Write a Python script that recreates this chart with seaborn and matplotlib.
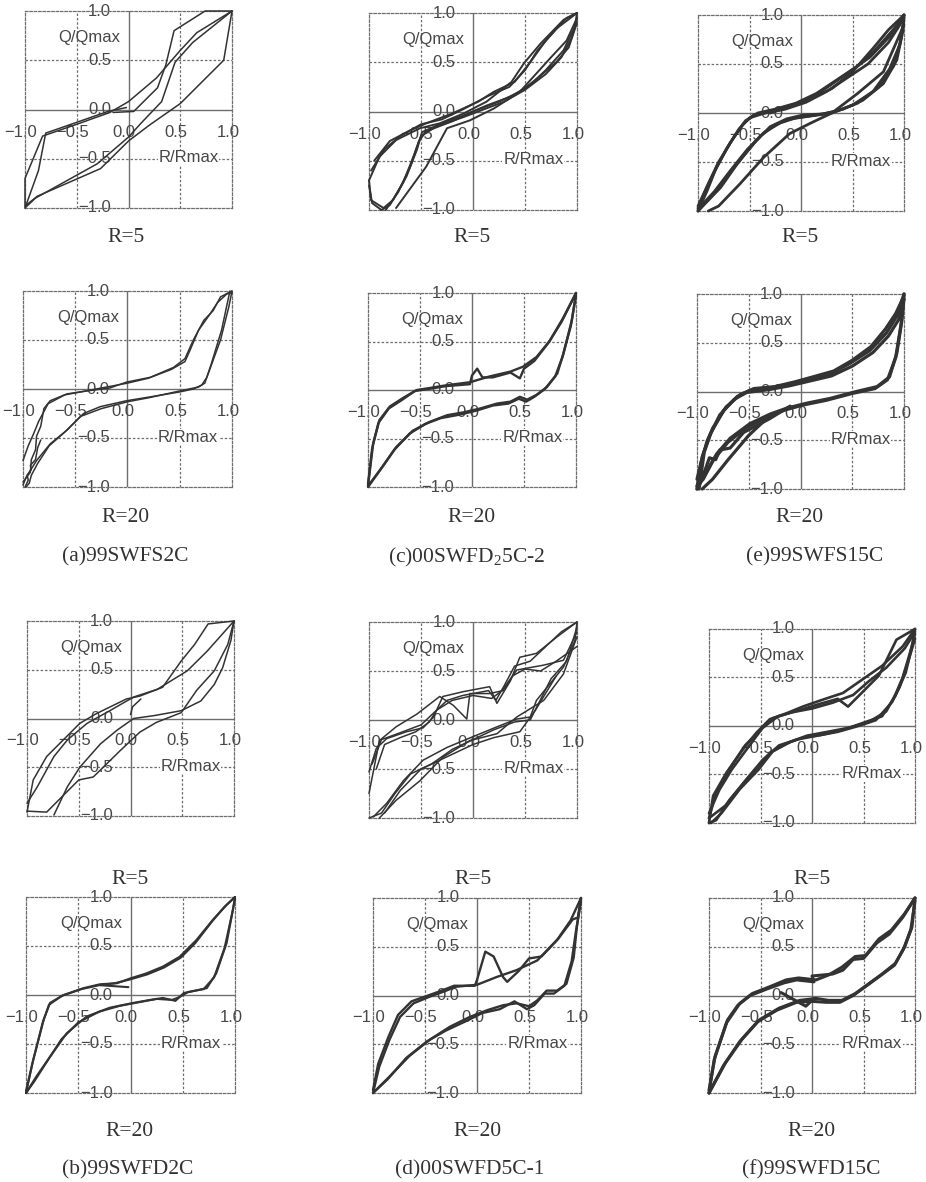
import matplotlib
matplotlib.use("Agg")
import matplotlib.pyplot as plt
import seaborn as sns
import pandas as pd

# ---------------- data ----------------
TICKS = [-1.0, -0.5, 0.0, 0.5, 1.0]
TICK_TEXT = ["−1.0", "−0.5", "0.0", "0.5", "1.0"]
Y_NAME = "Q/Qmax"
X_NAME = "R/Rmax"

# (a) 99SWFS2C, R=5
A5_C1 = [(-0.15,-0.03),(0.05,-0.02),(0.28,0.22),(0.36,0.45),(0.44,0.80),(0.74,1.0),(1.0,1.0)]
A5_C2 = [(1.0,1.0),(0.92,0.5),(0.5,0.06),(0.2,-0.16),(0.0,-0.32),(-0.27,-0.60),(-0.88,-0.88),(-1.0,-0.98)]
A5_C3 = [(-1.0,-0.98),(-1.0,-0.70),(-0.83,-0.27),(-0.5,-0.15),(-0.18,-0.03),(0.0,0.08),(0.27,0.32),(0.5,0.6),(0.66,0.78),(1.0,1.0)]
A5_C4 = [(1.0,1.0),(0.62,0.68),(0.45,0.48),(0.32,0.08),(0.12,-0.14),(0.0,-0.28),(-0.3,-0.55),(-0.9,-0.9),(-1.0,-1.0)]
A5_C5 = [(-1.0,-1.0),(-0.87,-0.62),(-0.8,-0.24),(-0.5,-0.13),(-0.2,-0.02),(-0.02,0.02)]

# (a) 99SWFS2C, R=20
A20_U1 = [(-1.0,-0.95),(-0.93,-0.85),(-0.92,-0.72),(-0.88,-0.62),(-0.87,-0.48),(-0.83,-0.38),(-0.8,-0.2),(-0.74,-0.12),(-0.58,-0.05),(-0.39,-0.02),(-0.17,0.01),(-0.01,0.07),(0.22,0.12),(0.44,0.22),(0.55,0.31),(0.63,0.50),(0.73,0.70),(0.82,0.80),(0.89,0.94),(0.98,0.99),(1.0,1.0)]
A20_U2 = [(-1.0,-0.73),(-0.95,-0.58),(-0.9,-0.46),(-0.85,-0.33),(-0.81,-0.25),(-0.76,-0.15),(-0.6,-0.06),(-0.4,-0.02),(-0.2,0.02),(0.0,0.06),(0.2,0.11),(0.42,0.2),(0.55,0.28),(0.6,0.4),(0.68,0.6),(0.78,0.75),(0.86,0.88),(0.95,0.97),(1.0,0.98)]
A20_L1 = [(1.0,1.0),(0.97,0.84),(0.89,0.50),(0.76,0.12),(0.71,0.04),(0.63,0.0),(0.50,-0.03),(0.22,-0.08),(-0.01,-0.12),(-0.26,-0.18),(-0.42,-0.25),(-0.58,-0.42),(-0.74,-0.56),(-0.87,-0.73),(-0.97,-0.90),(-1.0,-0.98)]
A20_L2 = [(0.98,1.0),(0.96,0.9),(0.9,0.6),(0.8,0.25),(0.74,0.06),(0.68,0.02),(0.5,-0.02),(0.2,-0.09),(0.0,-0.13),(-0.25,-0.2),(-0.45,-0.28),(-0.6,-0.44),(-0.75,-0.58),(-0.86,-0.76),(-0.92,-0.88),(-0.94,-0.96),(-0.97,-1.0)]
A20_J = [(-0.98,-1.0),(-0.95,-0.93),(-0.96,-0.88),(-0.92,-0.82),(-0.93,-0.78),(-0.88,-0.72),(-0.86,-0.6),(-0.83,-0.52)]

# (c) 00SWFD25C-2, R=5
C5_U1 = [(-1.0,-0.70),(-0.9,-0.46),(-0.74,-0.29),(-0.51,-0.17),(-0.32,-0.12),(-0.09,-0.02),(0.13,0.10),(0.37,0.30),(0.49,0.49),(0.65,0.69),(0.87,0.93),(1.0,1.0)]
C5_U2 = [(-0.98,-0.6),(-0.85,-0.38),(-0.7,-0.25),(-0.5,-0.13),(-0.3,-0.08),(-0.1,0.02),(0.15,0.16),(0.35,0.25),(0.5,0.42),(0.62,0.62),(0.8,0.84),(1.0,1.0)]
C5_U3 = [(-0.95,-0.5),(-0.8,-0.3),(-0.62,-0.2),(-0.45,-0.12),(-0.2,-0.02),(0.05,0.1),(0.2,0.2),(0.4,0.3),(0.55,0.5),(0.7,0.72),(0.9,0.95),(1.0,1.0)]
C5_L1 = [(1.0,1.0),(0.98,0.86),(0.87,0.62),(0.70,0.42),(0.55,0.27),(0.36,0.15),(0.13,0.06),(-0.09,-0.04),(-0.3,-0.12),(-0.49,-0.21),(-0.54,-0.39),(-0.64,-0.66),(-0.77,-0.90),(-0.86,-0.98),(-0.98,-0.90),(-1.0,-0.70)]
C5_L2 = [(1.0,0.95),(0.95,0.75),(0.85,0.55),(0.7,0.38),(0.5,0.22),(0.3,0.1),(0.1,0.02),(-0.1,-0.06),(-0.35,-0.15),(-0.5,-0.25),(-0.57,-0.45),(-0.67,-0.72),(-0.8,-0.95),(-0.88,-1.0),(-0.97,-0.93),(-1.0,-0.75)]
C5_L3 = [(1.0,0.9),(0.92,0.65),(0.8,0.5),(0.6,0.32),(0.45,0.2),(0.25,0.1),(0.0,0.0),(-0.2,-0.1),(-0.45,-0.2),(-0.52,-0.3),(-0.6,-0.55),(-0.72,-0.82),(-0.84,-1.0)]
C5_X = [(-0.74,-0.98),(-0.45,-0.56),(-0.25,-0.17),(-0.03,-0.09),(0.2,0.03),(0.45,0.2),(0.75,0.55),(0.9,0.72),(1.0,0.95)]

# (c) 00SWFD25C-2, R=20
C20_U1 = [(-1.0,-0.99),(-0.95,-0.55),(-0.89,-0.31),(-0.79,-0.17),(-0.66,-0.08),(-0.53,0.0),(-0.41,0.02),(-0.24,0.05),(-0.02,0.08),(0.17,0.14),(0.37,0.19),(0.49,0.24),(0.62,0.34),(0.75,0.51),(0.88,0.75),(1.0,1.0)]
C20_U2 = [(-1.0,-0.97),(-0.96,-0.6),(-0.9,-0.34),(-0.8,-0.19),(-0.67,-0.1),(-0.55,-0.01),(-0.42,0.01),(-0.25,0.04),(-0.02,0.06),(0.0,0.15),(0.05,0.22),(0.1,0.13),(0.2,0.13),(0.37,0.18),(0.46,0.12),(0.5,0.22),(0.6,0.3),(0.73,0.48),(0.86,0.7),(1.0,1.0)]
C20_L1 = [(1.0,1.0),(0.96,0.72),(0.88,0.38),(0.82,0.17),(0.72,0.03),(0.62,-0.05),(0.53,-0.10),(0.46,-0.07),(0.37,-0.12),(0.24,-0.14),(0.08,-0.19),(-0.08,-0.23),(-0.24,-0.26),(-0.41,-0.33),(-0.57,-0.42),(-0.73,-0.59),(-0.86,-0.79),(-1.0,-0.99)]
C20_L2 = [(1.0,0.97),(0.95,0.66),(0.87,0.34),(0.8,0.14),(0.7,0.01),(0.6,-0.07),(0.52,-0.12),(0.45,-0.09),(0.35,-0.14),(0.2,-0.16),(0.05,-0.21),(-0.1,-0.25),(-0.3,-0.29),(-0.45,-0.35),(-0.6,-0.45),(-0.75,-0.62),(-0.88,-0.82),(-1.0,-1.0)]

# (e) 99SWFS15C, R=5
E5_U1 = [(-1.0,-1.0),(-0.91,-0.79),(-0.82,-0.55),(-0.69,-0.31),(-0.56,-0.11),(-0.46,-0.02),(-0.30,0.01),(-0.11,0.06),(0.09,0.15),(0.28,0.28),(0.47,0.42),(0.67,0.57),(0.86,0.78),(0.97,0.96),(1.0,1.0)]
E5_U2 = [(-1.0,-0.97),(-0.93,-0.8),(-0.84,-0.6),(-0.72,-0.36),(-0.6,-0.16),(-0.5,-0.05),(-0.35,0.0),(-0.15,0.04),(0.05,0.11),(0.25,0.22),(0.45,0.36),(0.65,0.5),(0.85,0.72),(0.96,0.9),(1.0,1.0)]
E5_U3 = [(-1.0,-0.95),(-0.9,-0.72),(-0.8,-0.5),(-0.66,-0.26),(-0.54,-0.08),(-0.42,0.0),(-0.25,0.04),(-0.05,0.1),(0.15,0.2),(0.35,0.34),(0.55,0.48),(0.7,0.62),(0.82,0.76),(0.92,0.88),(1.0,1.0)]
E5_L1 = [(1.0,1.0),(0.99,0.84),(0.93,0.54),(0.80,0.30),(0.60,0.13),(0.41,0.04),(0.22,-0.01),(0.02,-0.02),(-0.14,-0.06),(-0.30,-0.14),(-0.46,-0.31),(-0.62,-0.52),(-0.78,-0.76),(-1.0,-1.0)]
E5_L2 = [(1.0,0.95),(0.97,0.75),(0.9,0.48),(0.75,0.26),(0.55,0.1),(0.35,0.02),(0.15,-0.02),(-0.05,-0.05),(-0.2,-0.1),(-0.36,-0.2),(-0.52,-0.37),(-0.68,-0.58),(-0.84,-0.8),(-1.0,-0.98)]
E5_L3 = [(1.0,0.98),(0.96,0.7),(0.86,0.45),(0.7,0.22),(0.5,0.08),(0.3,0.0),(0.1,-0.03),(-0.1,-0.06),(-0.25,-0.12),(-0.4,-0.24),(-0.56,-0.44),(-0.72,-0.65),(-0.88,-0.86),(-1.0,-1.0)]
E5_X = [(1.0,0.9),(0.8,0.42),(0.55,0.2),(0.3,0.0),(0.1,-0.1),(-0.11,-0.21),(-0.36,-0.45),(-0.59,-0.72),(-0.8,-0.95),(-0.9,-1.0)]
E5_Y = [(-0.3,0.0),(0.0,0.1),(0.3,0.25),(0.5,0.42),(0.7,0.66),(0.85,0.85),(1.0,1.0)]

# (e) 99SWFS15C, R=20
E20_U1 = [(-1.0,-0.98),(-0.95,-0.67),(-0.87,-0.43),(-0.74,-0.19),(-0.61,-0.05),(-0.49,0.01),(-0.29,0.03),(-0.10,0.08),(0.09,0.13),(0.29,0.18),(0.48,0.29),(0.67,0.42),(0.83,0.60),(0.93,0.77),(1.0,1.0)]
E20_U2 = [(-1.0,-0.9),(-0.96,-0.72),(-0.9,-0.5),(-0.78,-0.24),(-0.64,-0.08),(-0.52,-0.01),(-0.3,0.02),(-0.1,0.06),(0.1,0.11),(0.3,0.16),(0.5,0.26),(0.7,0.4),(0.85,0.57),(0.95,0.74),(1.0,0.95)]
E20_U3 = [(-0.98,-1.0),(-0.93,-0.62),(-0.85,-0.38),(-0.72,-0.16),(-0.58,-0.03),(-0.45,0.03),(-0.25,0.05),(-0.05,0.1),(0.12,0.15),(0.32,0.21),(0.5,0.32),(0.68,0.46),(0.82,0.64),(0.92,0.8),(1.0,0.98)]
E20_L1 = [(1.0,1.0),(0.98,0.73),(0.93,0.39),(0.86,0.15),(0.74,0.05),(0.54,0.0),(0.29,-0.07),(0.06,-0.12),(-0.13,-0.17),(-0.29,-0.23),(-0.49,-0.33),(-0.68,-0.48),(-0.81,-0.64),(-0.92,-0.84),(-1.0,-1.0)]
E20_L2 = [(1.0,0.95),(0.97,0.68),(0.92,0.35),(0.84,0.12),(0.72,0.03),(0.5,-0.02),(0.25,-0.09),(0.02,-0.14),(-0.15,-0.19),(-0.32,-0.26),(-0.52,-0.37),(-0.7,-0.52),(-0.84,-0.7),(-0.94,-0.9),(-1.0,-0.97)]
E20_L3 = [(-0.1,-0.15),(-0.3,-0.28),(-0.55,-0.42),(-0.68,-0.58),(-0.78,-0.6),(-0.82,-0.7),(-0.88,-0.68),(-0.92,-0.8),(-0.96,-0.92),(-1.0,-1.0)]
E20_X = [(-0.3,-0.25),(-0.5,-0.45),(-0.7,-0.7),(-0.85,-0.9),(-0.95,-1.0)]

# (b) 99SWFD2C, R=5
B5_C1 = [(-1.0,-0.96),(-0.94,-0.63),(-0.81,-0.39),(-0.65,-0.22),(-0.49,-0.05),(-0.33,0.05),(-0.04,0.20),(0.09,0.23),(0.31,0.32),(0.49,0.59),(0.62,0.76),(0.75,0.97),(1.0,1.0)]
B5_C2 = [(-1.0,-0.87),(-0.9,-0.70),(-0.74,-0.39),(-0.61,-0.22),(-0.42,-0.05),(-0.2,0.08),(0.03,0.22),(0.26,0.30),(0.55,0.49),(0.74,0.69),(1.0,1.0)]
B5_C3 = [(1.0,1.0),(0.97,0.80),(0.89,0.52),(0.81,0.35),(0.68,0.18),(0.49,0.08),(0.23,0.03),(0.03,0.0),(-0.13,-0.12),(-0.29,-0.26),(-0.49,-0.50),(-0.61,-0.70),(-0.74,-0.99)]
B5_C4 = [(1.0,1.0),(0.94,0.76),(0.81,0.49),(0.64,0.29),(0.49,0.06),(0.25,-0.04),(0.09,-0.14),(-0.1,-0.33),(-0.36,-0.60),(-0.5,-0.63),(-0.81,-0.96),(-1.0,-0.95)]
B5_C0 = [(0.0,0.04),(0.02,0.12),(0.1,0.2)]

# (b) 99SWFD2C, R=20
B20_U1 = [(-1.0,-1.0),(-0.93,-0.66),(-0.83,-0.25),(-0.77,-0.08),(-0.64,0.0),(-0.45,0.07),(-0.29,0.11),(-0.13,0.12),(0.0,0.17),(0.15,0.22),(0.31,0.29),(0.47,0.39),(0.63,0.56),(0.79,0.77),(0.92,0.92),(1.0,1.0)]
B20_U2 = [(-1.0,-0.98),(-0.94,-0.7),(-0.84,-0.28),(-0.78,-0.1),(-0.66,-0.01),(-0.47,0.06),(-0.3,0.1),(-0.15,0.12),(0.0,0.16),(0.16,0.21),(0.32,0.28),(0.48,0.38),(0.62,0.53),(0.78,0.75),(0.9,0.9),(1.0,1.0)]
B20_S = [(-0.29,0.10),(-0.02,0.08)]
B20_L1 = [(1.0,1.0),(0.98,0.87),(0.92,0.53),(0.82,0.22),(0.73,0.07),(0.6,0.04),(0.51,0.02),(0.43,-0.06),(0.31,-0.03),(0.19,-0.05),(0.03,-0.08),(-0.2,-0.13),(-0.42,-0.22),(-0.61,-0.39),(-0.77,-0.63),(-0.9,-0.83),(-1.0,-1.0)]
B20_L2 = [(1.0,0.98),(0.97,0.82),(0.9,0.48),(0.8,0.18),(0.7,0.06),(0.55,0.03),(0.47,-0.02),(0.4,-0.05),(0.25,-0.04),(0.1,-0.07),(-0.1,-0.11),(-0.3,-0.17),(-0.5,-0.28),(-0.66,-0.45),(-0.8,-0.68),(-0.92,-0.88),(-1.0,-1.0)]

# (d) 00SWFD5C-1, R=5
D5_U1 = [(-1.0,-0.53),(-0.93,-0.29),(-0.83,-0.19),(-0.64,-0.12),(-0.48,-0.08),(-0.38,0.03),(-0.29,0.24),(-0.09,0.29),(0.16,0.34),(0.23,0.17),(0.36,0.40),(0.45,0.64),(0.61,0.68),(0.81,0.85),(1.0,1.0)]
D5_U2 = [(-1.0,-0.75),(-0.9,-0.21),(-0.74,-0.07),(-0.54,0.06),(-0.32,0.24),(-0.19,0.15),(-0.06,0.01),(-0.03,0.27),(0.16,0.27),(0.29,0.30),(0.42,0.51),(0.68,0.56),(0.87,0.61),(1.0,0.9)]
D5_U3 = [(-0.97,-0.45),(-0.88,-0.2),(-0.7,-0.13),(-0.5,-0.05),(-0.35,0.1),(-0.25,0.2),(-0.1,0.25),(0.15,0.3),(0.22,0.2),(0.3,0.35),(0.4,0.55),(0.55,0.6),(0.7,0.75),(0.85,0.9),(1.0,1.0)]
D5_U4 = [(-0.93,-0.5),(-0.85,-0.25),(-0.7,-0.18),(-0.55,-0.12),(-0.42,-0.02),(-0.35,0.1),(-0.2,0.2),(0.0,0.25),(0.18,0.22),(0.28,0.3),(0.38,0.45),(0.5,0.52),(0.65,0.5),(0.8,0.6),(1.0,0.75)]
D5_L1 = [(1.0,1.0),(0.98,0.81),(0.87,0.54),(0.74,0.37),(0.61,0.20),(0.55,0.03),(0.42,0.01),(0.23,-0.07),(0.0,-0.17),(-0.25,-0.28),(-0.48,-0.41),(-0.67,-0.62),(-0.83,-0.85),(-0.96,-0.99)]
D5_L2 = [(1.0,0.85),(0.87,0.47),(0.68,0.20),(0.42,0.03),(0.23,-0.14),(-0.03,-0.21),(-0.29,-0.38),(-0.51,-0.62),(-0.74,-0.82),(-0.9,-1.0)]
D5_L3 = [(1.0,0.95),(0.9,0.6),(0.75,0.42),(0.55,0.0),(0.4,-0.02),(0.2,-0.1),(0.0,-0.2),(-0.2,-0.3),(-0.4,-0.45),(-0.6,-0.55),(-0.75,-0.75),(-0.88,-0.95),(-1.0,-1.0)]
D5_L4 = [(0.8,0.45),(0.6,0.1),(0.45,-0.12),(0.2,-0.18),(0.0,-0.25),(-0.3,-0.4),(-0.5,-0.5),(-0.7,-0.72),(-0.85,-0.95)]

# (d) 00SWFD5C-1, R=20
D20_U1 = [(-1.0,-1.0),(-0.94,-0.73),(-0.84,-0.45),(-0.74,-0.22),(-0.61,-0.08),(-0.45,-0.01),(-0.32,0.04),(-0.2,0.09),(0.0,0.11),(0.19,0.19),(0.38,0.26),(0.58,0.36),(0.77,0.57),(0.9,0.77),(1.0,1.0)]
D20_U2 = [(-1.0,-0.97),(-0.95,-0.7),(-0.85,-0.42),(-0.76,-0.2),(-0.63,-0.06),(-0.47,0.0),(-0.34,0.05),(-0.22,0.1),(-0.02,0.1),(0.0,0.16),(0.08,0.45),(0.16,0.4),(0.25,0.19),(0.29,0.14),(0.4,0.25),(0.5,0.38),(0.62,0.4),(0.78,0.58),(0.92,0.78),(0.97,0.8),(1.0,1.0)]
D20_L1 = [(1.0,1.0),(0.96,0.70),(0.93,0.39),(0.86,0.12),(0.77,0.05),(0.67,0.05),(0.58,-0.05),(0.50,-0.11),(0.38,-0.08),(0.25,-0.10),(0.10,-0.15),(-0.07,-0.22),(-0.26,-0.32),(-0.45,-0.45),(-0.65,-0.62),(-0.84,-0.83),(-1.0,-1.0)]
D20_L2 = [(1.0,0.97),(0.95,0.65),(0.91,0.35),(0.84,0.1),(0.74,0.02),(0.65,0.02),(0.55,-0.1),(0.48,-0.14),(0.36,-0.06),(0.22,-0.14),(0.05,-0.18),(-0.1,-0.26),(-0.3,-0.36),(-0.48,-0.47),(-0.68,-0.64),(-0.86,-0.86),(-1.0,-1.0)]

# (f) 99SWFD15C, R=5
F5_U1 = [(-1.0,-1.0),(-0.96,-0.72),(-0.83,-0.48),(-0.67,-0.24),(-0.54,-0.07),(-0.41,0.07),(-0.25,0.13),(-0.09,0.20),(0.1,0.27),(0.30,0.34),(0.49,0.48),(0.68,0.62),(0.88,0.82),(1.0,1.0)]
F5_U2 = [(-1.0,-0.95),(-0.93,-0.68),(-0.8,-0.44),(-0.65,-0.2),(-0.5,-0.04),(-0.38,0.08),(-0.2,0.14),(0.0,0.18),(0.2,0.24),(0.4,0.32),(0.55,0.46),(0.72,0.6),(0.9,0.8),(1.0,0.97)]
F5_U3 = [(-1.0,-0.9),(-0.9,-0.66),(-0.78,-0.45),(-0.62,-0.22),(-0.48,-0.02),(-0.33,0.1),(-0.1,0.17),(0.05,0.22),(0.25,0.28),(0.35,0.2),(0.5,0.36),(0.65,0.52),(0.82,0.89),(1.0,1.0)]
F5_L1 = [(1.0,1.0),(0.97,0.82),(0.91,0.55),(0.81,0.31),(0.68,0.10),(0.49,0.03),(0.30,-0.04),(0.10,-0.09),(-0.09,-0.12),(-0.25,-0.18),(-0.41,-0.28),(-0.61,-0.52),(-0.80,-0.76),(-0.93,-0.97),(-1.0,-1.0)]
F5_L2 = [(1.0,0.95),(0.95,0.75),(0.88,0.5),(0.78,0.25),(0.62,0.06),(0.45,0.0),(0.25,-0.06),(0.05,-0.1),(-0.15,-0.14),(-0.32,-0.2),(-0.48,-0.35),(-0.66,-0.58),(-0.84,-0.82),(-1.0,-0.95)]
F5_L3 = [(1.0,0.9),(0.93,0.65),(0.85,0.4),(0.72,0.15),(0.55,0.04),(0.35,-0.02),(0.15,-0.06),(-0.05,-0.1),(-0.2,-0.16),(-0.38,-0.26),(-0.52,-0.45),(-0.7,-0.65),(-0.88,-0.9),(-0.98,-1.0)]

# (f) 99SWFD15C, R=20
F20_U1 = [(-1.0,-1.0),(-0.95,-0.66),(-0.83,-0.28),(-0.7,-0.08),(-0.58,0.02),(-0.41,0.09),(-0.25,0.16),(-0.13,0.18),(0.04,0.16),(0.16,0.21),(0.29,0.29),(0.42,0.40),(0.52,0.41),(0.65,0.58),(0.77,0.67),(0.9,0.84),(1.0,1.0)]
F20_U2 = [(-1.0,-0.97),(-0.94,-0.62),(-0.82,-0.25),(-0.72,-0.1),(-0.6,0.0),(-0.43,0.07),(-0.27,0.13),(-0.15,0.16),(0.02,0.14),(0.0,0.2),(0.2,0.22),(0.3,0.26),(0.4,0.37),(0.5,0.38),(0.63,0.54),(0.75,0.63),(0.88,0.8),(1.0,1.0)]
F20_L1 = [(1.0,1.0),(0.97,0.70),(0.9,0.5),(0.81,0.33),(0.68,0.22),(0.55,0.12),(0.42,0.02),(0.29,-0.05),(0.16,-0.05),(0.04,-0.03),(-0.12,-0.05),(-0.32,-0.13),(-0.51,-0.25),(-0.68,-0.45),(-0.84,-0.69),(-1.0,-1.0)]
F20_L2 = [(1.0,0.97),(0.96,0.68),(0.89,0.48),(0.8,0.31),(0.66,0.2),(0.53,0.1),(0.4,0.0),(0.27,-0.07),(0.14,-0.07),(0.0,-0.06),(-0.15,-0.07),(-0.34,-0.15),(-0.53,-0.27),(-0.7,-0.47),(-0.86,-0.72),(-1.0,-1.0)]
F20_X = [(-0.3,0.03),(-0.06,-0.11),(0.02,-0.03)]

R_LABELS = ["R=5", "R=20"]
CAPTIONS = ["(a)99SWFS2C", "(c)00SWFD$_{2}$5C-2", "(e)99SWFS15C",
            "(b)99SWFD2C", "(d)00SWFD5C-1", "(f)99SWFD15C"]

PANELS = {
    "A5": [A5_C1, A5_C2, A5_C3, A5_C4, A5_C5],
    "C5": [C5_U1, C5_U2, C5_U3, C5_L1, C5_L2, C5_L3, C5_X],
    "E5": [E5_U1, E5_U2, E5_U3, E5_L1, E5_L2, E5_L3, E5_X, E5_Y],
    "A20": [A20_U1, A20_U2, A20_L1, A20_L2, A20_J],
    "C20": [C20_U1, C20_U2, C20_L1, C20_L2],
    "E20": [E20_U1, E20_U2, E20_U3, E20_L1, E20_L2, E20_L3, E20_X],
    "B5": [B5_C1, B5_C2, B5_C3, B5_C4, B5_C0],
    "D5": [D5_U1, D5_U2, D5_U3, D5_U4, D5_L1, D5_L2, D5_L3, D5_L4],
    "F5": [F5_U1, F5_U2, F5_U3, F5_L1, F5_L2, F5_L3],
    "B20": [B20_U1, B20_U2, B20_S, B20_L1, B20_L2],
    "D20": [D20_U1, D20_U2, D20_L1, D20_L2],
    "F20": [F20_U1, F20_U2, F20_L1, F20_L2, F20_X],
}

# ---------------- layout / style ----------------
W, H = 926, 1182
# (key, left, top, right, bottom) in pixels, line width
LAYOUT = [
    ("A5", 25, 11, 232, 208, 1.1), ("C5", 369, 13, 577, 210, 1.4), ("E5", 698, 15, 904, 211, 2.0),
    ("A20", 23, 291, 232, 487, 1.1), ("C20", 368, 293, 576, 487, 1.7), ("E20", 697, 294, 904, 489, 2.3),
    ("B5", 27, 621, 234, 816, 1.1), ("D5", 369, 622, 577, 818, 1.1), ("F5", 709, 629, 915, 823, 1.9),
    ("B20", 26, 897, 235, 1093, 1.5), ("D20", 373, 898, 581, 1093, 1.7), ("F20", 709, 898, 915, 1093, 2.2),
]
R_TEXT_POS = [  # (x, y, label index)
    (126, 237, 0), (472, 237, 0), (800, 237, 0),
    (126, 517, 1), (472, 517, 1), (800, 517, 1),
    (130, 880, 0), (473, 880, 0), (812, 880, 0),
    (130, 1131, 1), (477, 1131, 1), (812, 1131, 1),
]
CAPTION_POS = [(125, 557), (467, 557), (815, 557), (128, 1170), (470, 1170), (811, 1170)]

LINE_COLOR = "#333333"
TEXT_COLOR = "#474747"
GRID_COLOR = "#6e6e6e"
DASH = (0, (2.0, 1.5))
XLABEL_SHIFT = -0.04

sns.set_theme(style="white")
plt.rcParams["font.family"] = ["Liberation Sans", "DejaVu Sans"]
plt.rcParams["mathtext.fontset"] = "custom"
plt.rcParams["mathtext.rm"] = "Liberation Serif"
plt.rcParams["mathtext.it"] = "Liberation Serif"

# long table
rows = []
for key, curves in PANELS.items():
    for ci, curve in enumerate(curves):
        for oi, (x, y) in enumerate(curve):
            rows.append({"panel": key, "curve": ci, "order": oi, "x": x, "y": y})
df = pd.DataFrame(rows)

fig = plt.figure(figsize=(W / 100, H / 100), dpi=100)
fig.patch.set_facecolor("white")

for key, l, t, r, b, lw in LAYOUT:
    ax = fig.add_axes([l / W, 1 - b / H, (r - l) / W, (b - t) / H])
    sub = df[df["panel"] == key]
    sns.lineplot(data=sub, x="x", y="y", units="curve", estimator=None, sort=False,
                 color=LINE_COLOR, linewidth=lw, ax=ax, legend=False)
    for ln in ax.lines:
        ln.set_clip_on(False)
        ln.set_zorder(3)
        ln.set_solid_joinstyle("round")
    ax.set_xlim(-1, 1)
    ax.set_ylim(-1, 1)
    ax.set_xlabel("")
    ax.set_ylabel("")
    ax.set_xticks([])
    ax.set_yticks([])
    for sp in ax.spines.values():
        sp.set_linestyle(DASH)
        sp.set_color(GRID_COLOR)
        sp.set_linewidth(0.9)
    for v in (-0.5, 0.5):
        ax.axhline(v, color=GRID_COLOR, lw=0.9, ls=DASH, zorder=1)
        ax.axvline(v, color=GRID_COLOR, lw=0.9, ls=DASH, zorder=1)
    ax.axhline(0, color=GRID_COLOR, lw=1.0, zorder=1)
    ax.axvline(0, color=GRID_COLOR, lw=1.0, zorder=1)
    for v, s in zip(TICKS, TICK_TEXT):
        ax.text(-0.17, v, s, ha="right", va="center", fontsize=12, color=TEXT_COLOR,
                clip_on=False, zorder=2)
        ax.text(v + XLABEL_SHIFT, -0.23, s, ha="center", va="center", fontsize=12,
                color=TEXT_COLOR, clip_on=False, zorder=2)
    ax.text(-0.08, 0.73, Y_NAME, ha="right", va="center", fontsize=12, color=TEXT_COLOR, zorder=2)
    ax.text(0.29, -0.49, X_NAME, ha="left", va="center", fontsize=12, color=TEXT_COLOR, zorder=2,
            bbox=dict(facecolor="white", edgecolor="none", pad=0.5))

for x, y, i in R_TEXT_POS:
    fig.text(x / W, 1 - y / H, R_LABELS[i], ha="center", va="center", fontsize=15.5,
             family="Liberation Serif", color="#333333")
for (x, y), cap in zip(CAPTION_POS, CAPTIONS):
    fig.text(x / W, 1 - y / H, cap, ha="center", va="center", fontsize=15.5,
             family="Liberation Serif", color="#333333")

fig.savefig("out.png", dpi=100, facecolor="white")
